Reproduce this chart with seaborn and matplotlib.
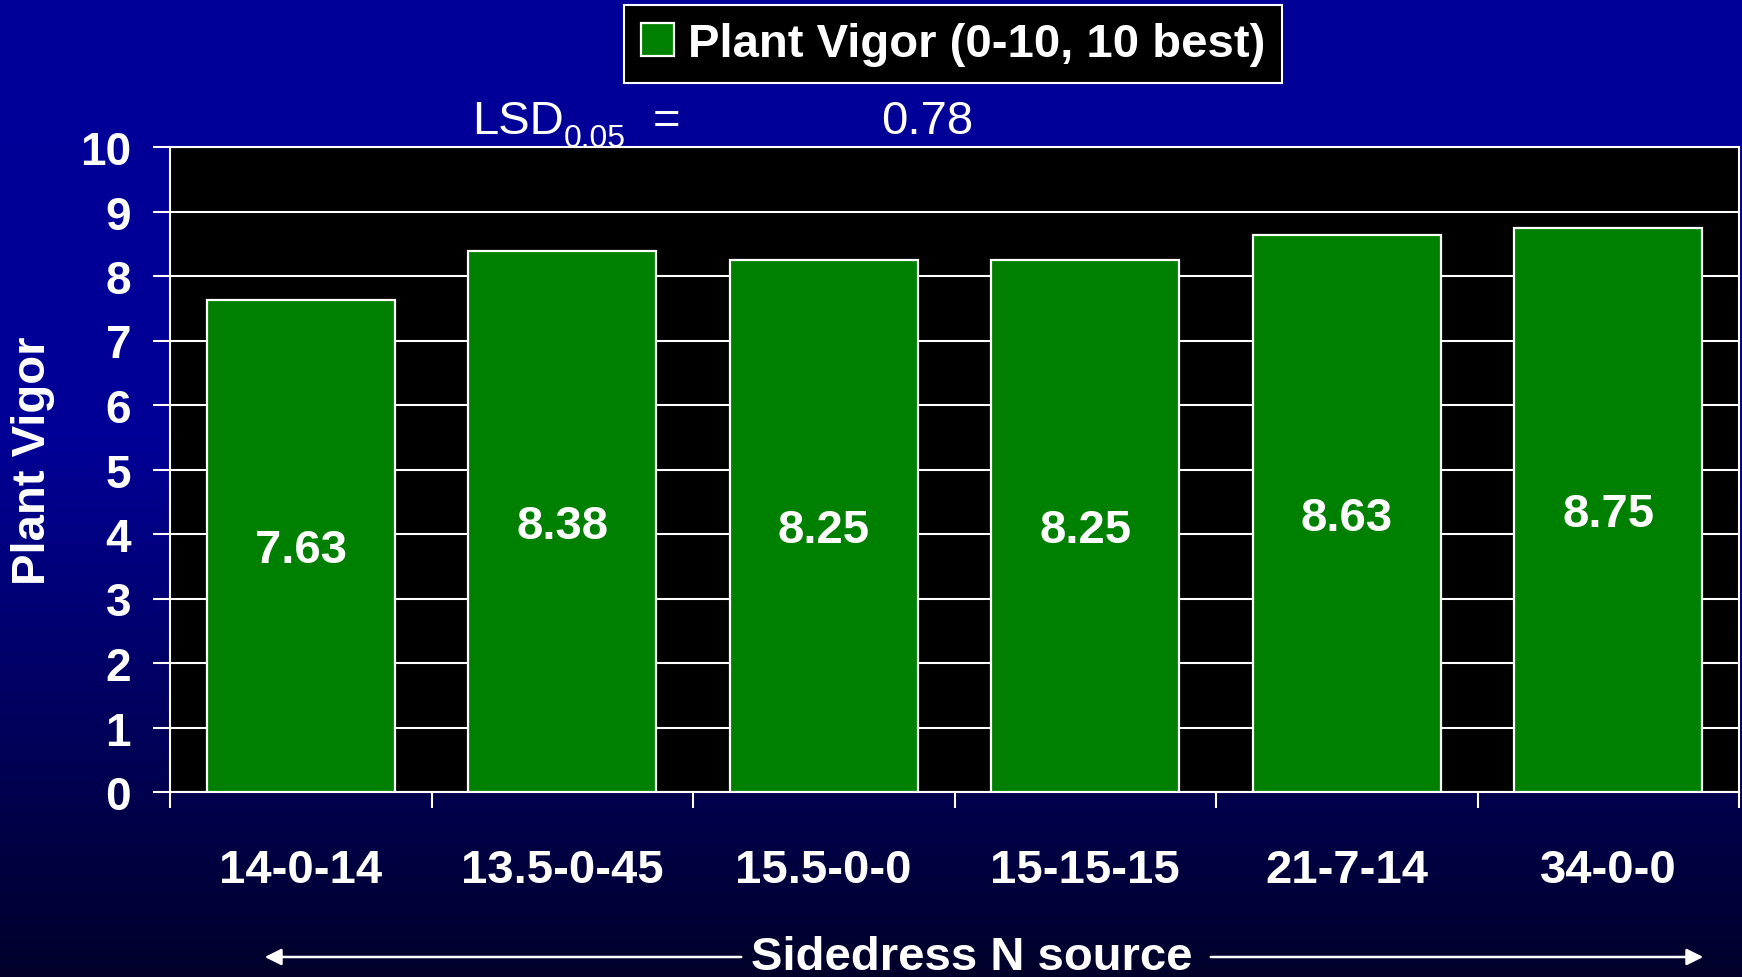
import matplotlib
matplotlib.use("Agg")
import matplotlib.pyplot as plt
import seaborn as sns
import pandas as pd
import numpy as np
from matplotlib.colors import LinearSegmentedColormap

# data
sources = ["14-0-14", "13.5-0-45", "15.5-0-0", "15-15-15", "21-7-14", "34-0-0"]
vigor = [7.63, 8.38, 8.25, 8.25, 8.63, 8.75]
y_ticks = [0, 1, 2, 3, 4, 5, 6, 7, 8, 9, 10]
lsd = 0.78

df = pd.DataFrame({"source": sources, "vigor": vigor})

sns.set_style("white")
plt.rcParams["font.family"] = ["Liberation Sans", "DejaVu Sans"]
plt.rcParams["font.weight"] = "bold"

fig = plt.figure(figsize=(17.42, 9.78), dpi=100)

# gradient background
bg = fig.add_axes([0, 0, 1, 1], zorder=-10)
cmap = LinearSegmentedColormap.from_list(
    "bg", [(0.0, "#000099"), (0.45, "#000096"), (0.72, "#000060"), (1.0, "#00002a")])
bg.imshow(np.linspace(0, 1, 256).reshape(-1, 1), cmap=cmap, aspect="auto",
          extent=[0, 1, 0, 1], origin="upper")
bg.axis("off")

ax = fig.add_axes([170 / 1742, 1 - 793 / 978, (1739 - 170) / 1742, (793 - 148) / 978])
ax.set_facecolor("black")

sns.barplot(data=df, x="source", y="vigor", color="#008000", edgecolor="white",
            linewidth=1.6, width=0.72, saturation=1, label="Plant Vigor (0-10, 10 best)",
            ax=ax, zorder=3)

ax.set_xlim(-0.5, 5.5)
ax.set_ylim(0, 10)
ax.set_yticks(y_ticks)
ax.yaxis.grid(True, color="white", linewidth=1.5, zorder=0)
ax.set_axisbelow(True)
for s in ax.spines.values():
    s.set_color("white")
    s.set_linewidth(1.5)
    s.set_visible(True)

ax.tick_params(axis="y", colors="white", labelsize=33, length=12, width=1.5,
               direction="out", pad=16, left=True)
for t in ax.get_yticklabels():
    t.set_fontweight("bold")

ax.set_xticks(np.arange(-0.5, 6, 1))
ax.set_xticklabels([])
ax.tick_params(axis="x", which="major", colors="white", length=11.5, width=1.5,
               direction="out", bottom=True)
ax.set_xticks(range(len(sources)), labels=sources, minor=True)
ax.tick_params(axis="x", which="minor", length=0, labelsize=34, labelcolor="white", pad=40)
for t in ax.get_xticklabels(minor=True):
    t.set_fontweight("bold")

ax.set_xlabel("")
ax.set_ylabel("")

# value labels inside the bars
for i, v in enumerate(vigor):
    ax.text(i, v / 2 - 0.06, f"{v:.2f}", ha="center", va="center", color="white",
            fontsize=34, fontweight="bold", zorder=5)

fig.text(33 / 1742, 1 - 461 / 978, "Plant Vigor", rotation=90, ha="center", va="center",
         color="white", fontsize=34, fontweight="bold")

# legend
leg = fig.legend(loc="center", bbox_to_anchor=(953 / 1742, 1 - 45 / 978), fontsize=34,
                 frameon=True, fancybox=False, facecolor="black", edgecolor="white",
                 framealpha=1, handlelength=0.7, handleheight=0.7, handletextpad=0.3,
                 borderpad=0.35, borderaxespad=0)
leg.get_frame().set_linewidth(1.5)
for t in leg.get_texts():
    t.set_color("white")
    t.set_fontweight("bold")
if ax.legend_:
    ax.legend_.remove()

# LSD annotation
fig.text(472 / 1742, 1 - 122 / 978, "LSD", ha="left", va="center", color="white",
         fontsize=34, fontweight="normal")
fig.text(564 / 1742, 1 - 139 / 978, "0.05", ha="left", va="center", color="white",
         fontsize=23, fontweight="normal")
fig.text(667 / 1742, 1 - 122 / 978, "=", ha="center", va="center", color="white",
         fontsize=34, fontweight="normal")
fig.text(927 / 1742, 1 - 122 / 978, f"{lsd:.2f}", ha="center", va="center", color="white",
         fontsize=34, fontweight="normal")

# x axis title with arrows
fig.text(972 / 1742, 1 - 958 / 978, "Sidedress N source", ha="center", va="center",
         color="white", fontsize=34, fontweight="bold")
arrow = dict(arrowstyle="-|>", color="white", lw=1.8, mutation_scale=25)
fig.add_artist(matplotlib.patches.FancyArrowPatch((744 / 1742, 1 - 958 / 978),
                                                  (262 / 1742, 1 - 958 / 978),
                                                  transform=fig.transFigure, **arrow))
fig.add_artist(matplotlib.patches.FancyArrowPatch((1208 / 1742, 1 - 958 / 978),
                                                  (1706 / 1742, 1 - 958 / 978),
                                                  transform=fig.transFigure, **arrow))

fig.savefig("out.png", dpi=100)
